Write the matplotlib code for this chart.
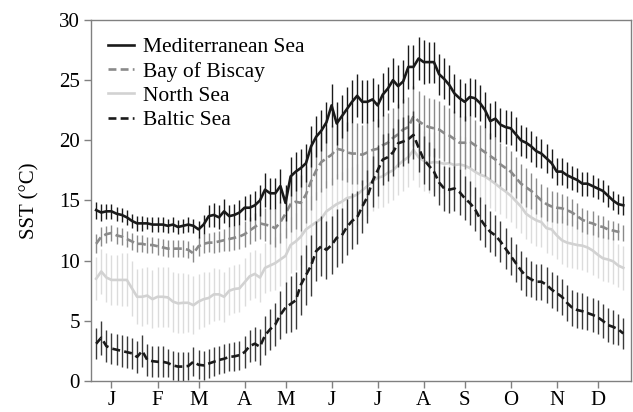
import matplotlib
matplotlib.use('Agg')
import matplotlib.pyplot as plt
import numpy as np

plt.rcParams['font.family'] = ['Liberation Serif', 'DejaVu Serif']

# twice-weekly climatology, 104 steps through the year
months = ['J', 'F', 'M', 'A', 'M', 'J', 'J', 'A', 'S', 'O', 'N', 'D']
month_pos = [3, 12, 20, 29, 37, 46, 55, 64, 72, 81, 90, 98]

med = [14.2, 14.0, 14.1, 14.1, 13.9, 13.8, 13.6, 13.3, 13.1, 13.1,
       13.1, 13.0, 13.0, 13.0, 12.9, 13.0, 12.8, 12.9, 13.0, 12.9,
       12.6, 13.0, 13.7, 13.8, 13.6, 14.1, 13.7, 13.8, 14.0, 14.4,
       14.4, 14.6, 15.0, 15.9, 15.6, 15.6, 16.2, 14.8, 17.0, 17.4,
       17.7, 18.1, 19.5, 20.3, 20.8, 21.5, 22.9, 21.4, 22.0, 22.6,
       23.2, 23.7, 23.2, 23.2, 23.4, 22.9, 23.8, 24.3, 25.0, 24.5,
       24.9, 26.1, 26.1, 26.8, 26.5, 26.5, 26.5, 25.5, 25.1, 24.6,
       23.9, 23.5, 23.2, 23.6, 23.5, 23.1, 22.5, 21.6, 21.8, 21.3,
       21.1, 21.0, 20.5, 20.0, 19.8, 19.5, 19.1, 18.9, 18.5, 18.1,
       17.4, 17.4, 17.1, 16.9, 16.7, 16.4, 16.4, 16.2, 16.0, 15.8,
       15.4, 15.0, 14.7, 14.6]
med_err = [0.7, 0.7, 0.6, 0.6, 0.6, 0.6, 0.6, 0.6, 0.6, 0.6,
           0.5, 0.6, 0.6, 0.6, 0.6, 0.6, 0.6, 0.6, 0.6, 0.6,
           0.7, 0.8, 0.9, 1.0, 1.0, 1.0, 0.9, 0.9, 1.0, 1.0,
           1.1, 1.2, 1.3, 1.4, 1.3, 1.3, 1.4, 1.5, 1.6, 1.6,
           1.6, 1.6, 1.7, 1.7, 1.7, 1.7, 1.8, 1.8, 1.8, 1.8,
           1.8, 1.8, 1.8, 1.8, 1.8, 1.8, 1.8, 1.8, 1.8, 1.8,
           1.8, 1.8, 1.8, 1.8, 1.8, 1.7, 1.7, 1.7, 1.7, 1.7,
           1.6, 1.6, 1.6, 1.6, 1.6, 1.5, 1.5, 1.5, 1.5, 1.4,
           1.4, 1.4, 1.4, 1.3, 1.3, 1.3, 1.3, 1.2, 1.2, 1.2,
           1.1, 1.1, 1.1, 1.0, 1.0, 1.0, 1.0, 0.9, 0.9, 0.9,
           0.9, 0.8, 0.8, 0.8]

biscay = [11.4, 12.0, 12.2, 12.3, 12.1, 12.0, 11.8, 11.6, 11.4, 11.4,
          11.3, 11.3, 11.2, 11.1, 11.0, 11.0, 11.0, 11.0, 10.9, 10.6,
          11.2, 11.4, 11.5, 11.5, 11.6, 11.7, 11.8, 11.9, 12.0, 12.2,
          12.5, 12.8, 13.1, 13.0, 12.9, 12.7, 13.2, 13.9, 14.7, 14.9,
          14.8, 15.5, 16.6, 17.5, 18.2, 18.5, 18.8, 19.3, 19.2, 19.0,
          18.9, 18.9, 18.8, 19.0, 19.2, 19.3, 19.6, 19.8, 20.2, 20.5,
          20.9, 21.1, 22.0, 21.6, 21.3, 21.1, 21.0, 20.9, 20.6, 20.4,
          20.1, 19.8, 19.8, 19.9, 19.6, 19.3, 19.0, 18.7, 18.4, 18.0,
          17.7, 17.4, 16.9, 16.4, 16.1, 15.8, 15.4, 15.0, 14.7, 14.5,
          14.4, 14.35, 14.2, 14.0, 13.7, 13.4, 13.2, 13.1, 12.9, 12.8,
          12.6, 12.5, 12.4, 12.3]
biscay_err = [0.8, 0.8, 0.7, 0.7, 0.7, 0.7, 0.7, 0.7, 0.7, 0.7,
              0.7, 0.7, 0.7, 0.7, 0.7, 0.7, 0.7, 0.7, 0.7, 0.7,
              0.8, 0.8, 0.8, 0.9, 0.9, 0.9, 1.0, 1.0, 1.0, 1.1,
              1.1, 1.2, 1.3, 1.4, 1.5, 1.6, 1.7, 2.0, 2.3, 2.3,
              2.3, 2.4, 2.4, 2.5, 2.5, 2.5, 2.5, 2.5, 2.5, 2.5,
              2.5, 2.5, 2.5, 2.5, 2.5, 2.5, 2.5, 2.5, 2.5, 2.5,
              2.5, 2.5, 2.5, 2.5, 2.5, 2.4, 2.4, 2.4, 2.3, 2.3,
              2.3, 2.2, 2.2, 2.1, 2.1, 2.0, 2.0, 1.9, 1.9, 1.8,
              1.8, 1.7, 1.7, 1.6, 1.6, 1.5, 1.5, 1.4, 1.4, 1.3,
              1.3, 1.2, 1.2, 1.1, 1.1, 1.0, 1.0, 1.0, 0.9, 0.9,
              0.8, 0.8, 0.7, 0.7]

north = [8.5, 9.1, 8.6, 8.4, 8.4, 8.4, 8.4, 7.7, 7.0, 7.0,
         7.1, 6.8, 7.0, 7.0, 6.95, 6.6, 6.45, 6.5, 6.5, 6.3,
         6.6, 6.8, 6.9, 7.2, 7.2, 7.0, 7.5, 7.65, 7.7, 8.2,
         8.7, 8.9, 8.6, 9.4, 9.6, 9.8, 10.1, 10.4, 11.3, 11.6,
         12.0, 12.6, 12.9, 13.2, 13.5, 14.1, 14.4, 14.7, 14.9, 15.2,
         15.3, 15.5, 15.85, 16.2, 16.6, 16.9, 17.0, 17.3, 17.5, 17.95,
         18.3, 18.6, 19.2, 18.6, 18.3, 18.1, 18.2, 18.15, 18.05, 18.1,
         17.95, 18.0, 17.9, 17.7, 17.4, 17.15, 17.0, 16.7, 16.4, 16.05,
         15.75, 15.4, 14.95, 14.5, 13.9, 13.6, 13.35, 13.2, 12.7, 12.6,
         12.1, 11.7, 11.5, 11.4, 11.3, 11.25, 11.1, 10.85, 10.5, 10.2,
         10.1, 9.95, 9.6, 9.4]
north_err = [1.8, 1.9, 2.0, 2.1, 2.1, 2.2, 2.2, 2.3, 2.3, 2.4,
             2.4, 2.4, 2.5, 2.5, 2.5, 2.5, 2.5, 2.5, 2.4, 2.4,
             2.3, 2.3, 2.2, 2.2, 2.1, 2.1, 2.0, 2.0, 2.0, 2.0,
             2.0, 2.0, 2.0, 2.1, 2.1, 2.2, 2.2, 2.3, 2.3, 2.4,
             2.4, 2.4, 2.5, 2.5, 2.5, 2.5, 2.5, 2.5, 2.5, 2.5,
             2.5, 2.5, 2.5, 2.5, 2.5, 2.5, 2.5, 2.5, 2.5, 2.5,
             2.5, 2.5, 2.5, 2.5, 2.5, 2.5, 2.5, 2.5, 2.4, 2.4,
             2.4, 2.4, 2.4, 2.3, 2.3, 2.3, 2.3, 2.3, 2.3, 2.2,
             2.2, 2.2, 2.2, 2.2, 2.1, 2.1, 2.1, 2.1, 2.1, 2.1,
             2.0, 2.0, 2.0, 2.0, 2.0, 2.0, 2.0, 2.0, 1.9, 1.9,
             1.9, 1.9, 1.8, 1.8]

baltic = [3.1, 3.6, 2.9, 2.7, 2.6, 2.5, 2.4, 2.3, 2.0, 2.5,
          1.75, 1.65, 1.6, 1.6, 1.5, 1.3, 1.2, 1.2, 1.25, 1.6,
          1.35, 1.3, 1.45, 1.6, 1.75, 1.85, 2.0, 2.05, 2.15, 2.4,
          2.9, 3.1, 2.85, 3.8, 4.3, 4.7, 5.5, 6.1, 6.4, 6.7,
          8.0, 8.8, 9.6, 10.8, 11.2, 10.9, 11.3, 11.9, 12.1, 12.8,
          13.3, 13.6, 14.5, 15.3, 16.6, 17.5, 18.4, 18.6, 19.0, 19.75,
          19.9, 20.1, 20.45, 19.4, 18.4, 17.9, 17.4, 16.5, 16.0, 15.9,
          16.0, 15.7, 15.2, 14.8, 14.3, 13.5, 12.9, 12.4, 12.1, 11.6,
          11.0, 10.4, 9.8, 9.2, 8.7, 8.45, 8.25, 8.25, 8.0, 7.6,
          7.3, 7.0, 6.5, 6.1, 5.9, 5.8, 5.65, 5.5, 5.3, 5.0,
          4.65, 4.5, 4.3, 3.95]
baltic_err = [1.3, 1.4, 1.3, 1.3, 1.3, 1.3, 1.3, 1.3, 1.3, 1.3,
              1.3, 1.3, 1.3, 1.3, 1.2, 1.2, 1.2, 1.2, 1.2, 1.2,
              1.2, 1.2, 1.2, 1.2, 1.2, 1.2, 1.2, 1.2, 1.2, 1.3,
              1.3, 1.4, 1.5, 1.6, 1.7, 1.8, 2.0, 2.1, 2.3, 2.4,
              2.5, 2.5, 2.5, 2.5, 2.5, 2.4, 2.4, 2.4, 2.3, 2.3,
              2.3, 2.2, 2.2, 2.2, 2.1, 2.1, 2.1, 2.0, 2.0, 2.0,
              2.0, 2.0, 2.0, 2.0, 2.0, 2.0, 2.0, 1.9, 1.9, 1.9,
              1.9, 1.9, 1.8, 1.8, 1.8, 1.8, 1.8, 1.7, 1.7, 1.7,
              1.7, 1.6, 1.6, 1.6, 1.6, 1.5, 1.5, 1.5, 1.5, 1.5,
              1.5, 1.5, 1.5, 1.5, 1.5, 1.5, 1.4, 1.4, 1.4, 1.4,
              1.4, 1.4, 1.3, 1.3]

x = np.arange(len(med))

fig = plt.figure(figsize=(6.33, 4.12), dpi=100)
ax = fig.add_axes([0.1438, 0.0752, 0.8530, 0.8763])

series = [
    # label, values, errors, line colour, bar colour, dashed
    ('North Sea', north, north_err, '#d2d2d2', '#dcdcdc', False),
    ('Bay of Biscay', biscay, biscay_err, '#8a8a8a', '#8a8a8a', True),
    ('Baltic Sea', baltic, baltic_err, '#1a1a1a', '#3a3a3a', True),
    ('Mediterranean Sea', med, med_err, '#1a1a1a', '#1a1a1a', False),
]
handles = {}
for name, vals, err, lc, bc, dashed in series:
    ax.errorbar(x, vals, yerr=err, fmt='none', ecolor=bc, elinewidth=1.0, capsize=0)
    ls = (0, (3.0, 1.6)) if dashed else '-'
    h, = ax.plot(x, vals, color=lc, lw=1.9, linestyle=ls, label=name)
    handles[name] = h

order = ['Mediterranean Sea', 'Bay of Biscay', 'North Sea', 'Baltic Sea']
ax.legend([handles[n] for n in order], order, loc='upper left', frameon=False,
          fontsize=15.5, handlelength=1.2, handletextpad=0.42, labelspacing=0.2,
          borderaxespad=0.4)

ax.set_xlim(-1, 104.5)
ax.set_ylim(0, 30)
ax.set_yticks([0, 5, 10, 15, 20, 25, 30])
ax.set_xticks(month_pos)
ax.set_xticklabels(months)
ax.tick_params(axis='both', labelsize=15, color='#808080', length=5, width=1, direction='out')
ax.tick_params(axis='y', pad=3)
ax.tick_params(axis='x', pad=2)
for s in ax.spines.values():
    s.set_color('#808080')
    s.set_linewidth(1.0)
ax.set_ylabel('SST (°C)', fontsize=15, labelpad=14)

fig.savefig('out.png', dpi=100)
